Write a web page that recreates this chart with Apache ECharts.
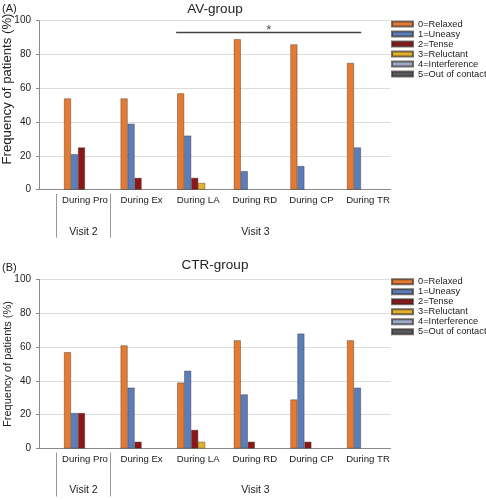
<!DOCTYPE html>
<html>
<head>
<meta charset="utf-8">
<script src="https://cdn.jsdelivr.net/npm/echarts@6/dist/echarts.min.js"></script>
<style>
html,body{margin:0;padding:0;background:#fff;}
#c{width:486px;height:500px;}
</style>
</head>
<body>
<div id="c"></div>
<script>
var categories = ['During Pro', 'During Ex', 'During LA', 'During RD', 'During CP', 'During TR'];
var seriesNames = ['0=Relaxed', '1=Uneasy', '2=Tense', '3=Reluctant', '4=Interference', '5=Out of contact'];
var yTicks = [0, 20, 40, 60, 80, 100];
var visitLabels = ['Visit 2', 'Visit 3'];
var yTitle = 'Frequency of patients (%)';

// Panel A: AV-group (values per category, one array per series)
var avRelaxed      = [54, 54, 57, 89, 86, 75];
var avUneasy       = [21, 39, 32, 11, 14, 25];
var avTense        = [25, 7, 7, 0, 0, 0];
var avReluctant    = [0, 0, 4, 0, 0, 0];
var avInterference = [0, 0, 0, 0, 0, 0];
var avOutOfContact = [0, 0, 0, 0, 0, 0];

// Panel B: CTR-group
var ctrRelaxed      = [57, 61, 39, 64, 29, 64];
var ctrUneasy       = [21, 36, 46, 32, 68, 36];
var ctrTense        = [21, 4, 11, 4, 4, 0];
var ctrReluctant    = [0, 0, 4, 0, 0, 0];
var ctrInterference = [0, 0, 0, 0, 0, 0];
var ctrOutOfContact = [0, 0, 0, 0, 0, 0];

// Significance bracket in panel A (category-index units), height in %
var sigStart = 1.61;
var sigEnd = 4.88;
var sigLevel = 93;
var sigMark = '*';

var colors = ['#E57B33', '#5B7EBA', '#8B1818', '#E2B22C', '#9DA9C6', '#575A63'];
var FONT = 'Liberation Sans';

var panels = [
  {title: 'AV-group', tag: '(A)', data: [avRelaxed, avUneasy, avTense, avReluctant, avInterference, avOutOfContact],
   top: 20.7, titleTop: 2, tagTop: 3.3, legendTop: 19, yTitleY: 89, yTitleSize: 13.2, sig: true},
  {title: 'CTR-group', tag: '(B)', data: [ctrRelaxed, ctrUneasy, ctrTense, ctrReluctant, ctrInterference, ctrOutOfContact],
   top: 279.5, titleTop: 258, tagTop: 262, legendTop: 276.7, yTitleY: 364, yTitleSize: 11, sig: false}
];

var PLOT_H = 169;
var BG_LEFT = 39, BG_RIGHT_EDGE = 390.5;
var BAR_LEFT = 56.7, CAT_W = 56.6;

var grids = [], xAxes = [], yAxes = [], series = [], legends = [], titles = [], graphics = [];

panels.forEach(function (p, pi) {
  grids.push({left: BG_LEFT, width: BG_RIGHT_EDGE - BG_LEFT, top: p.top, height: PLOT_H, containLabel: false, outerBoundsMode: 'none'});
  grids.push({left: BAR_LEFT, width: CAT_W * categories.length, top: p.top, height: PLOT_H, containLabel: false, outerBoundsMode: 'none'});
  var gBg = pi * 2, gBar = pi * 2 + 1;

  xAxes.push({gridIndex: gBg, type: 'category', data: categories, axisLabel: {show: false}, axisTick: {show: false},
    axisLine: {lineStyle: {color: '#8a8a8a', width: 1}}, splitLine: {show: false}});
  yAxes.push({gridIndex: gBg, type: 'value', min: yTicks[0], max: yTicks[yTicks.length - 1], interval: yTicks[1] - yTicks[0],
    axisLine: {show: true, lineStyle: {color: '#8a8a8a'}},
    axisTick: {show: true, length: 3, lineStyle: {color: '#8a8a8a'}},
    axisLabel: {fontFamily: FONT, fontSize: 10, color: '#222', margin: 8},
    splitLine: {lineStyle: {color: '#dcdcdc', width: 1}}});

  var xBarIdx = xAxes.length;
  xAxes.push({gridIndex: gBar, type: 'category', data: categories, axisLine: {show: false}, axisTick: {show: false},
    axisLabel: {fontFamily: FONT, fontSize: 9.6, color: '#222', margin: 6, interval: 0}});
  var yBarIdx = yAxes.length;
  yAxes.push({gridIndex: gBar, type: 'value', min: yTicks[0], max: yTicks[yTicks.length - 1], show: false, splitLine: {show: false}});

  seriesNames.forEach(function (n, si) {
    series.push({
      type: 'bar', name: n, xAxisIndex: xBarIdx, yAxisIndex: yBarIdx,
      data: p.data[si].map(function (v) { return v === 0 ? {value: v, itemStyle: {borderWidth: 0}} : v; }),
      barWidth: 7, barGap: '0%', barCategoryGap: '0%',
      itemStyle: {color: colors[si], borderColor: 'rgba(50,40,35,0.65)', borderWidth: 0.6},
      emphasis: {disabled: true}, animation: false
    });
  });

  if (p.sig) {
    var xValIdx = xAxes.length;
    xAxes.push({gridIndex: gBar, type: 'value', min: -0.5, max: categories.length - 0.5, show: false});
    series.push({
      type: 'line', xAxisIndex: xValIdx, yAxisIndex: yBarIdx, data: [[sigStart, sigLevel], [sigEnd, sigLevel]],
      symbol: 'none', lineStyle: {color: '#444', width: 1.5}, silent: true, animation: false
    });
    series.push({
      type: 'scatter', xAxisIndex: xValIdx, yAxisIndex: yBarIdx, data: [[(sigStart + sigEnd) / 2, sigLevel]],
      symbolSize: 0, silent: true, animation: false,
      label: {show: true, formatter: sigMark, position: 'top', distance: -4, fontFamily: FONT, fontSize: 13, color: '#222'}
    });
  }

  legends.push({
    data: seriesNames, orient: 'vertical', left: 391, top: p.legendTop, padding: 0,
    itemWidth: 21, itemHeight: 5, itemGap: 0, icon: 'rect',
    textStyle: {fontFamily: FONT, fontSize: 9.3, color: '#222', lineHeight: 10},
    selectedMode: false
  });

  titles.push({text: p.title, left: 215, textAlign: 'center', top: p.titleTop, padding: 0,
    textStyle: {fontFamily: FONT, fontSize: 13.5, fontWeight: 'normal', color: '#222'}});
  titles.push({text: p.tag, left: 2, top: p.tagTop, padding: 0,
    textStyle: {fontFamily: FONT, fontSize: 11, fontWeight: 'normal', color: '#222'}});

  graphics.push({type: 'text', x: 7.5, y: p.yTitleY, rotation: Math.PI / 2,
    style: {text: yTitle, fontFamily: FONT, fontSize: p.yTitleSize, fill: '#222', textAlign: 'center', textVerticalAlign: 'middle'}, silent: true});

  var base = p.top + PLOT_H;
  [56.5, 110.5].forEach(function (x) {
    graphics.push({type: 'line', shape: {x1: x, y1: base + 4, x2: x, y2: base + 48}, style: {stroke: '#999', lineWidth: 1}, silent: true});
  });
  graphics.push({type: 'text', x: 83.5, y: base + 42, style: {text: visitLabels[0], fontFamily: FONT, fontSize: 10.5, fill: '#222', textAlign: 'center', textVerticalAlign: 'middle'}});
  graphics.push({type: 'text', x: 255.5, y: base + 42, style: {text: visitLabels[1], fontFamily: FONT, fontSize: 10.5, fill: '#222', textAlign: 'center', textVerticalAlign: 'middle'}});
});

var chart = echarts.init(document.getElementById('c'), null, {renderer: 'canvas'});
chart.setOption({
  backgroundColor: '#fff',
  animation: false,
  color: colors,
  title: titles,
  legend: legends,
  grid: grids,
  xAxis: xAxes,
  yAxis: yAxes,
  series: series,
  graphic: graphics
});
</script>
</body>
</html>
